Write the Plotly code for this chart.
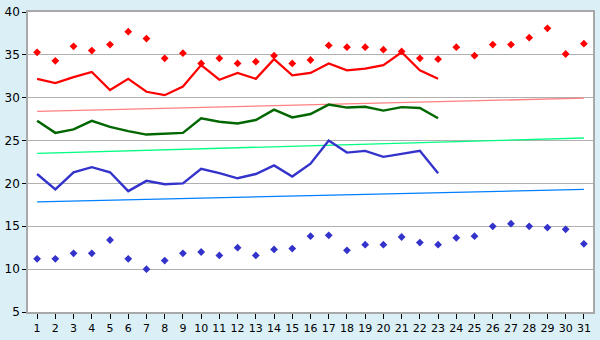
import plotly.graph_objects as go

days = list(range(1, 32))
x_labels = [str(d) for d in days]

# Series: record highs (diamonds), mean max line, mean line, mean min line, record lows (diamonds)
max_points = [35.3, 34.3, 36.0, 35.5, 36.2, 37.7, 36.9, 34.6, 35.2, 34.0,
              34.6, 34.0, 34.2, 34.9, 34.0, 34.4, 36.1, 35.9, 35.9, 35.6,
              35.4, 34.6, 34.5, 35.9, 34.9, 36.2, 36.2, 37.0, 38.1, 35.1, 36.3]
max_line = [32.2, 31.7, 32.4, 33.0, 30.9, 32.2, 30.7, 30.3, 31.3, 33.8,
            32.1, 32.9, 32.2, 34.5, 32.6, 32.9, 34.0, 33.2, 33.4, 33.8,
            35.3, 33.2, 32.2]
mean_line = [27.3, 25.9, 26.3, 27.3, 26.6, 26.1, 25.7, 25.8, 25.9, 27.6,
             27.2, 27.0, 27.4, 28.6, 27.7, 28.1, 29.2, 28.85, 28.95, 28.5,
             28.9, 28.8, 27.6]
min_line = [21.1, 19.3, 21.3, 21.9, 21.3, 19.1, 20.3, 19.9, 20.0, 21.7,
            21.2, 20.6, 21.1, 22.1, 20.8, 22.3, 25.0, 23.6, 23.8, 23.1,
            23.45, 23.8, 21.2]
min_points = [11.2, 11.2, 11.85, 11.85, 13.4, 11.2, 10.0, 11.0, 11.85, 12.0,
              11.6, 12.5, 11.6, 12.3, 12.4, 13.85, 13.95, 12.2, 12.85, 12.85,
              13.75, 13.1, 12.85, 13.65, 13.85, 15.0, 15.3, 15.0, 14.85, 14.65, 12.95]

# Trend lines (values at day 1 and day 31)
trend_x = [1, 31]
max_trend = [28.4, 29.95]
mean_trend = [23.5, 25.3]
min_trend = [17.85, 19.3]

fig = go.Figure()

fig.add_trace(go.Scatter(x=trend_x, y=max_trend, mode="lines",
                         line=dict(color="#ff8080", width=1.3), hoverinfo="skip"))
fig.add_trace(go.Scatter(x=trend_x, y=mean_trend, mode="lines",
                         line=dict(color="#00ff80", width=1.3), hoverinfo="skip"))
fig.add_trace(go.Scatter(x=trend_x, y=min_trend, mode="lines",
                         line=dict(color="#0080ff", width=1.3), hoverinfo="skip"))

fig.add_trace(go.Scatter(x=days[:len(max_line)], y=max_line, mode="lines",
                         line=dict(color="#ff0000", width=2.2)))
fig.add_trace(go.Scatter(x=days[:len(mean_line)], y=mean_line, mode="lines",
                         line=dict(color="#006600", width=2.4)))
fig.add_trace(go.Scatter(x=days[:len(min_line)], y=min_line, mode="lines",
                         line=dict(color="#3333cc", width=2.4)))

fig.add_trace(go.Scatter(x=days, y=max_points, mode="markers",
                         marker=dict(symbol="diamond", size=6, color="#ff0000")))
fig.add_trace(go.Scatter(x=days, y=min_points, mode="markers",
                         marker=dict(symbol="diamond", size=6, color="#3333cc")))

fig.update_layout(
    width=600, height=340,
    margin=dict(l=20, r=5, t=5, b=20),
    paper_bgcolor="#daeff6",
    plot_bgcolor="#ffffff",
    showlegend=False,
    font=dict(family="DejaVu Sans", size=11, color="#000000"),
)
fig.update_xaxes(
    range=[0.5, 31.5], tickmode="array", tickvals=days, ticktext=x_labels,
    showgrid=False, zeroline=False,
    showline=True, linecolor="#a8a8a8", linewidth=1.5, mirror=True,
    ticks="outside", ticklen=5, tickcolor="#000000", tickwidth=1,
    tickfont=dict(family="DejaVu Sans", size=11),
)
fig.update_yaxes(
    range=[5, 40], tickmode="linear", tick0=5, dtick=5,
    showgrid=True, gridcolor="#b0b0b0", gridwidth=1, zeroline=False,
    showline=True, linecolor="#a8a8a8", linewidth=1.5, mirror=True,
    ticks="outside", ticklen=4, tickcolor="#000000", tickwidth=1,
    tickfont=dict(family="DejaVu Sans", size=12),
)

fig.write_html("out.html")
